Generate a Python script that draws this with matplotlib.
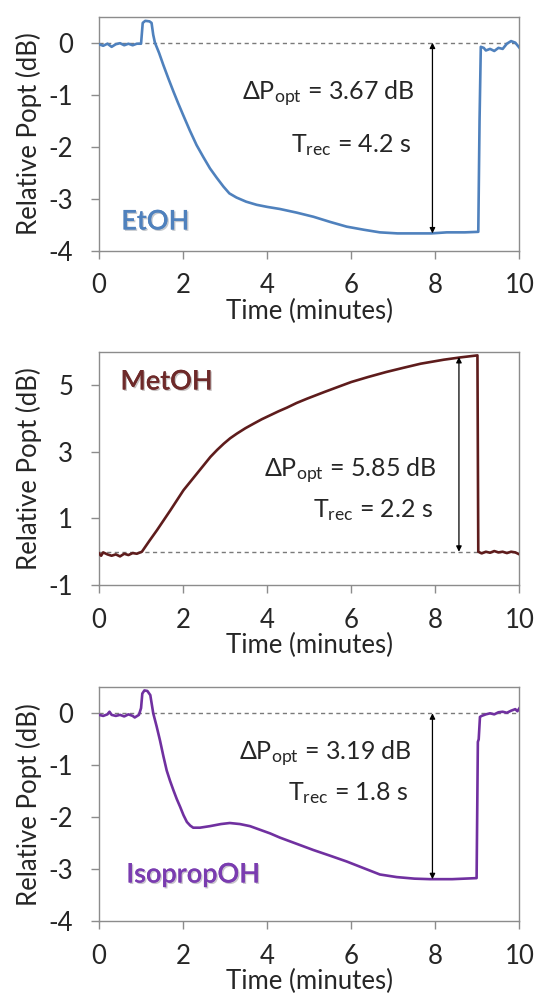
import matplotlib
matplotlib.use("Agg")
import matplotlib.pyplot as plt
import matplotlib.patheffects as pe

plt.rcParams['font.family'] = ['Lato', 'DejaVu Sans']
plt.rcParams['mathtext.fontset'] = 'custom'
plt.rcParams['mathtext.rm'] = 'Lato'
plt.rcParams['mathtext.it'] = 'Lato:italic'
plt.rcParams['axes.unicode_minus'] = False

# EtOH trace (time in minutes, relative Popt in dB)
etoh_t = [0, 0.1, 0.2, 0.3, 0.4, 0.5, 0.6, 0.7, 0.8, 0.9, 1.0, 1.04, 1.1, 1.2, 1.25,
          1.29, 1.33, 1.43, 1.53, 1.65, 1.77, 1.88, 2.0, 2.16, 2.32, 2.48, 2.64, 2.8,
          2.96, 3.1, 3.27, 3.5, 3.75, 4.0, 4.3, 4.7, 5.1, 5.5, 5.89, 6.3, 6.68, 7.1,
          7.47, 7.9, 8.27, 8.7, 9.02, 9.05, 9.08, 9.15, 9.2, 9.3, 9.4, 9.5, 9.6, 9.7,
          9.8, 9.9, 10.0]
etoh_v = [-0.03, -0.06, -0.02, -0.08, -0.03, -0.01, -0.05, -0.02, -0.05, -0.02, -0.02,
          0.38, 0.42, 0.41, 0.38, 0.15, 0.0, -0.2, -0.43, -0.69, -0.94, -1.16, -1.39,
          -1.69, -1.97, -2.2, -2.42, -2.6, -2.77, -2.9, -2.98, -3.06, -3.12, -3.16,
          -3.2, -3.27, -3.35, -3.45, -3.54, -3.6, -3.65, -3.67, -3.67, -3.67, -3.65,
          -3.65, -3.64, -1.5, -0.08, -0.1, -0.15, -0.12, -0.16, -0.1, -0.12, -0.02,
          0.03, 0.0, -0.1]

# MetOH trace
meoh_t = [0, 0.05, 0.1, 0.2, 0.3, 0.4, 0.5, 0.6, 0.7, 0.8, 0.9, 1.02, 1.2, 1.38, 1.54,
          1.70, 1.86, 2.01, 2.17, 2.33, 2.49, 2.65, 2.81, 2.97, 3.12, 3.28, 3.48, 3.68,
          3.87, 4.07, 4.27, 4.47, 4.7, 4.95, 5.36, 5.7, 6.0, 6.4, 6.83, 7.25, 7.65, 8.2,
          8.6, 9.0, 9.02, 9.1, 9.2, 9.3, 9.4, 9.5, 9.6, 9.7, 9.8, 9.9, 10.0]
meoh_v = [-0.05, -0.12, -0.02, -0.08, -0.12, -0.08, -0.14, -0.06, -0.1, -0.04, -0.06,
          0.0, 0.33, 0.65, 0.95, 1.25, 1.56, 1.85, 2.1, 2.35, 2.6, 2.85, 3.06, 3.25,
          3.41, 3.55, 3.71, 3.85, 3.98, 4.1, 4.22, 4.33, 4.47, 4.6, 4.8, 4.96, 5.1,
          5.25, 5.4, 5.53, 5.65, 5.77, 5.84, 5.9, 0.0, -0.05, 0.0, -0.03, 0.02, -0.02,
          0.0, -0.04, 0.0, -0.02, -0.08]

# IsopropOH trace
ipa_t = [0, 0.1, 0.2, 0.25, 0.3, 0.4, 0.5, 0.6, 0.7, 0.8, 0.85, 0.95, 1.0, 1.03, 1.08,
         1.15, 1.22, 1.25, 1.29, 1.37, 1.45, 1.53, 1.61, 1.69, 1.77, 1.85, 1.93, 2.01,
         2.09, 2.17, 2.24, 2.4, 2.64, 2.9, 3.11, 3.35, 3.59, 3.83, 4.07, 4.3, 4.7, 5.1,
         5.5, 5.89, 6.3, 6.68, 7.08, 7.5, 7.87, 8.4, 8.98, 9.01, 9.03, 9.06, 9.1, 9.2,
         9.3, 9.4, 9.5, 9.6, 9.7, 9.8, 9.9, 9.95, 10.0]
ipa_v = [-0.03, -0.05, -0.02, 0.03, -0.03, -0.05, -0.03, -0.06, -0.02, -0.05, -0.08,
         -0.03, 0.1, 0.38, 0.44, 0.43, 0.35, 0.2, 0.0, -0.25, -0.52, -0.82, -1.1, -1.3,
         -1.48, -1.65, -1.8, -1.96, -2.09, -2.16, -2.2, -2.2, -2.17, -2.13, -2.11,
         -2.13, -2.17, -2.24, -2.31, -2.39, -2.51, -2.63, -2.74, -2.85, -2.98, -3.1,
         -3.15, -3.18, -3.19, -3.19, -3.17, -0.55, -0.5, -0.07, -0.05, -0.02, 0.0,
         -0.02, 0.02, 0.03, 0.01, 0.05, 0.08, 0.04, 0.1]

names = ['EtOH', 'MetOH', 'IsopropOH']
colors = ['#4f81bd', '#5e1c1c', '#7030a0']
label_colors = ['#4f81bd', '#6e2a2a', '#7a3cb0']
delta_p = [3.67, 5.85, 3.19]
t_rec = [4.2, 2.2, 1.8]
ylims = [(-4, 0.5), (-1, 6), (-4, 0.5)]
yticks = [[-4, -3, -2, -1, 0], [-1, 1, 3, 5], [-4, -3, -2, -1, 0]]
xticks = [0, 2, 4, 6, 8, 10]

series = [(etoh_t, etoh_v), (meoh_t, meoh_v), (ipa_t, ipa_v)]

# axes boxes (left, bottom, width, height) in figure fraction
boxes = [(0.1847, 0.7492, 0.7845, 0.2341),
         (0.1847, 0.4144, 0.7845, 0.2332),
         (0.1847, 0.0778, 0.7845, 0.2342)]

# annotation placement per panel
arrow_x = [7.93, 8.56, 7.93]
dp_x = [7.52, 8.04, 7.44]
tr_x = [7.41, 7.95, 7.34]
dp_y = [-1.10, 2.25, -0.90]
tr_y = [-2.10, 1.05, -1.67]
lab_x = [0.53, 0.51, 0.65]
lab_y = [-3.45, 5.1, -3.11]

fig = plt.figure(figsize=(5.36, 9.99), dpi=100)
txt = '#262626'
grey = '#8c8c8c'

for i in range(3):
    ax = fig.add_axes(boxes[i])
    t, v = series[i]
    ax.axhline(0, color='#7a7a7a', ls=(0, (3, 2.5)), lw=1.0, zorder=1)
    ax.plot(t, v, color=colors[i], lw=1.9, zorder=3)
    ax.set_xlim(0, 10)
    ax.set_ylim(*ylims[i])
    ax.set_xticks(xticks)
    ax.set_yticks(yticks[i])
    for s in ax.spines.values():
        s.set_color(grey)
        s.set_linewidth(1.0)
    ax.tick_params(direction='out', length=6, width=1.0, color=grey,
                   labelsize=18.5, labelcolor=txt)
    ax.tick_params(axis='y', pad=12.5)
    ax.tick_params(axis='x', pad=10.5)
    ax.set_xlabel('Time (minutes)', fontsize=18.5, color=txt, labelpad=0)
    ax.set_ylabel('Relative Popt (dB)', fontsize=18.5, color=txt, labelpad=5)

    hi = -delta_p[i] if i != 1 else delta_p[i]
    ax.annotate('', xy=(arrow_x[i], hi), xytext=(arrow_x[i], 0),
                arrowprops=dict(arrowstyle='<|-|>', color='black', lw=0.9,
                                mutation_scale=8, shrinkA=0, shrinkB=0))
    ax.text(dp_x[i], dp_y[i], '\u0394P$_\\mathrm{opt}$ = %.2f dB' % delta_p[i],
            ha='right', va='baseline', fontsize=18, color=txt)
    ax.text(tr_x[i], tr_y[i], 'T$_\\mathrm{rec}$ = %.1f s' % t_rec[i],
            ha='right', va='baseline', fontsize=18, color=txt)
    ax.text(lab_x[i], lab_y[i], names[i], ha='left', va='center', fontsize=19.5,
            fontweight='semibold', color=label_colors[i],
            path_effects=[pe.withSimplePatchShadow(offset=(1, -1), alpha=0.25),
                          pe.Normal()])

fig.savefig('out.png', dpi=100)
